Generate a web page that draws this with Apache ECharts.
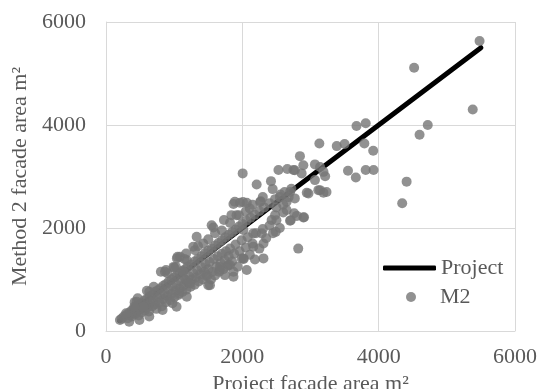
<!DOCTYPE html>
<html>
<head>
<meta charset="utf-8">
<script src="https://cdn.jsdelivr.net/npm/echarts@6/dist/echarts.min.js"></script>
<style>
  html, body { margin: 0; padding: 0; background: #fff; }
  #main { width: 538px; height: 389px; }
</style>
</head>
<body>
<div id="main"></div>
<script>
// Project line (y = x)
const projectX = [200, 5500]
const projectY = [200, 5500]

// M2 points: [project area, method 2 area]
const m2Outliers = [
  [5480, 5630], [4520, 5110], [5380, 4300], [4720, 4000], [4600, 3810], [4410, 2900], [4345, 2480],
  [3810, 4035], [3675, 3980], [3790, 3640], [3920, 3500], [3500, 3630], [3385, 3590], [3130, 3640], [2845, 3395],
  [3550, 3110], [3665, 2980], [3810, 3125], [3925, 3125],
  [2820, 1600], [2490, 1925], [2710, 2150], [2895, 2205],
  [2895, 3220], [3065, 3235], [3140, 3185], [3190, 3090], [3215, 3005], [3065, 2930], [2945, 2685],
  [3140, 2735], [3190, 2685], [2905, 2210], [2800, 2235], [2770, 2575], [2870, 3060], [2750, 3125],
  [2005, 3060], [2210, 2845], [2420, 2910], [2445, 2755], [2530, 3125], [2660, 3145], [2770, 3120],
  [1870, 2465], [1965, 2490], [2065, 2490], [2270, 2520],
  [2970, 2670], [3115, 2735], [3235, 2700], [2700, 2700], [2650, 2510],
  [2760, 2285], [2700, 2140], [2430, 2155], [2480, 2250],
  [2010, 2505], [2110, 2380], [2260, 2505],
  [1575, 2010], [1730, 2155], [1915, 2250], [2015, 1960], [2160, 1895], [2285, 1895], [2310, 1700],
  [2160, 1635], [2015, 1410], [2185, 1390], [2310, 1410],
  [1795, 1280], [1870, 1150], [1745, 1085], [1525, 890], [1475, 1085], [1670, 1245],
  [865, 1150], [1085, 1440], [1280, 1635], [1185, 1375],
  [1500, 890], [1230, 925], [1185, 665], [1035, 470], [450, 570], [550, 470], [205, 215],
  [1330, 1830], [1427, 1700], [1305, 1570], [1550, 2055], [1840, 2250], [1890, 2510],
  [990, 1245], [1135, 1150], [1040, 1410], [1050, 1440], [1175, 1505], [880, 1185], [1025, 1245], [805, 1150],
  [635, 760], [465, 635], [415, 470], [295, 345],
  [2620, 2700], [2680, 2600], [2720, 2760], [2600, 2450], [2550, 2600], [2500, 2400], [2650, 2350]
]

// points sitting on / just above the project line
const m2Band = [
  [230, 240], [260, 280], [300, 310], [340, 360], [380, 400], [410, 430], [450, 470], [490, 520], [520, 540],
  [560, 590], [600, 620], [640, 670], [680, 700], [720, 760], [760, 790], [800, 830], [840, 880], [880, 910],
  [920, 960], [960, 1000], [1000, 1040], [1040, 1080], [1080, 1120], [1120, 1170], [1160, 1200], [1200, 1250],
  [1250, 1290], [1300, 1350], [1350, 1400], [1400, 1450], [1450, 1510], [1500, 1560], [1550, 1600], [1600, 1660],
  [1650, 1710], [1700, 1760], [1750, 1820], [1800, 1870], [1850, 1920], [1900, 1970], [1950, 2030], [2000, 2080],
  [2060, 2140], [2120, 2200], [2180, 2260], [2250, 2330], [2320, 2400], [2400, 2480], [2480, 2560], [2560, 2650],
  [420, 560], [600, 780], [700, 860], [900, 1120], [1000, 1230], [1150, 1400], [1350, 1650], [1500, 1780],
  [1600, 1900], [1700, 1950], [1820, 2100], [1950, 2250], [2050, 2320], [2150, 2450], [2300, 2600]
]

// dense cloud below the line
const m2Below = [
  [320, 250], [350, 300], [380, 280], [400, 340], [430, 330], [460, 380], [480, 300], [500, 420], [520, 360],
  [550, 450], [570, 400], [590, 500], [610, 460], [630, 380], [490, 215], [340, 180], [635, 280], [830, 410], [975, 540],
  [650, 540], [680, 480], [700, 600], [720, 520], [740, 430], [760, 640], [780, 560], [800, 700], [820, 480],
  [840, 620], [860, 740], [880, 560], [900, 680], [1075, 730], [1175, 990],
  [920, 800], [940, 600], [960, 720], [980, 860], [1000, 650], [1020, 780], [1040, 900], [1060, 700], [1080, 820],
  [1100, 960], [1120, 760], [1140, 880], [1160, 1000], [1180, 800], [1200, 940],
  [1220, 1060], [1240, 860], [1260, 1000], [1280, 1120], [1300, 900], [1320, 1040], [1340, 1180], [1360, 960],
  [1380, 1100], [1400, 1240], [1420, 1000], [1440, 1150], [1460, 1300], [1480, 1060], [1500, 1200],
  [1520, 1340], [1540, 1000], [1560, 1150], [1580, 1400], [1600, 1080], [1620, 1250], [1640, 1450], [1660, 1150],
  [1680, 1320], [1700, 1500], [1720, 1200], [1740, 1380], [1760, 1550], [1780, 1260], [1800, 1450],
  [1820, 1600], [1850, 1350], [1880, 1500], [1900, 1680], [1930, 1250], [1960, 1550], [1990, 1760], [2020, 1400],
  [2050, 1620], [2080, 1820], [2110, 1480], [2150, 1700], [2200, 1900], [2250, 1600], [2300, 1980], [2350, 1800],
  [2400, 2050], [2450, 1900], [2500, 2150], [2550, 2000], [2600, 2300],
  [1670, 1185], [1820, 1280], [1990, 1410], [2065, 1185], [1870, 1055]
]

const font = 'Liberation Serif, Times New Roman, serif'
const textGrey = '#595959'
const gridGrey = '#d9d9d9'

const chart = echarts.init(document.getElementById('main'), null, { renderer: 'canvas' })

const axisCommon = {
  type: 'value',
  min: 0,
  max: 6000,
  interval: 2000,
  nameLocation: 'middle',
  nameTextStyle: { fontFamily: font, fontSize: 22, color: textGrey },
  axisLine: { show: true, lineStyle: { color: gridGrey, width: 1 } },
  axisTick: { show: false },
  axisLabel: { fontFamily: font, fontSize: 22, color: textGrey, formatter: v => String(v) },
  splitLine: { show: true, lineStyle: { color: gridGrey, width: 1 } }
}

chart.setOption({
  animation: false,
  grid: { left: 106, right: 23, top: 22, bottom: 58, outerBoundsMode: 'none', containLabel: false },
  xAxis: Object.assign({}, axisCommon, {
    name: 'Project facade area m²',
    nameGap: 38,
    axisLabel: Object.assign({}, axisCommon.axisLabel, { margin: 15 })
  }),
  yAxis: Object.assign({}, axisCommon, {
    name: 'Method 2 facade area m²',
    nameGap: 67,
    axisLabel: Object.assign({}, axisCommon.axisLabel, { margin: 20 })
  }),
  legend: [
    {
      data: [{ name: 'Project', icon: 'roundRect' }],
      left: 383,
      top: 256,
      padding: 0,
      itemWidth: 53,
      itemHeight: 5,
      textStyle: { fontFamily: font, fontSize: 22, color: textGrey, lineHeight: 24 }
    },
    {
      data: [{ name: 'M2', icon: 'circle' }],
      left: 406,
      top: 285,
      padding: 0,
      itemWidth: 10,
      itemHeight: 10,
      textStyle: { fontFamily: font, fontSize: 22, color: textGrey, lineHeight: 24, padding: [0, 0, 0, 19] }
    }
  ],
  series: [
    {
      name: 'Project',
      type: 'line',
      z: 2,
      data: projectX.map((x, i) => [x, projectY[i]]),
      showSymbol: false,
      symbol: 'none',
      lineStyle: { color: '#000', width: 5, cap: 'round' },
      itemStyle: { color: '#000' }
    },
    {
      name: 'M2',
      type: 'scatter',
      z: 3,
      data: m2Band.concat(m2Below, m2Outliers),
      symbolSize: 10,
      itemStyle: { color: '#767676', opacity: 0.8 }
    }
  ]
})
</script>
</body>
</html>
